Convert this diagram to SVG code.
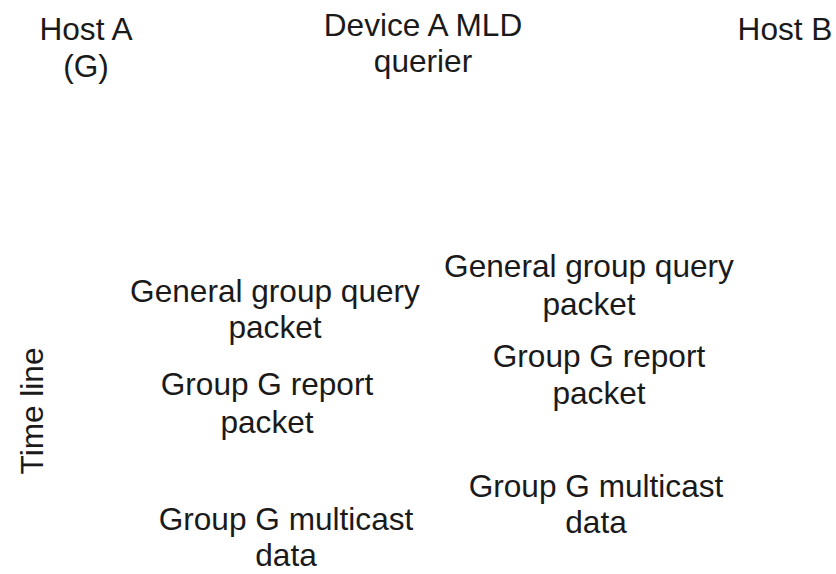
<svg xmlns="http://www.w3.org/2000/svg" width="836" height="574" viewBox="0 0 836 574">
<style>
text{font-family:"Liberation Sans",Arial,sans-serif;font-size:31.6px;fill:#1a1a1a;text-anchor:middle}
</style>
<rect width="836" height="574" fill="#ffffff"/>
<g id="hostA"><text x="86" y="40">Host A</text><text x="86" y="77">(G)</text></g>
<g id="deviceA"><text x="423" y="36">Device A MLD</text><text x="423" y="72">querier</text></g>
<g id="hostB"><text x="785" y="40">Host B</text></g>
<g id="timeline"><text transform="translate(43,411) rotate(-90)" x="0" y="0">Time line</text></g>
<g id="connectors">
<g id="q1"><text x="275" y="302">General group query</text><text x="275" y="338">packet</text></g>
<g id="q2"><text x="589" y="277">General group query</text><text x="589" y="315">packet</text></g>
<g id="r2"><text x="599" y="367">Group G report</text><text x="599" y="404">packet</text></g>
<g id="r1"><text x="267" y="395">Group G report</text><text x="267" y="433">packet</text></g>
<g id="m2"><text x="596" y="497">Group G multicast</text><text x="596" y="533">data</text></g>
<g id="m1"><text x="286" y="530">Group G multicast</text><text x="286" y="566">data</text></g>
</g>
</svg>
